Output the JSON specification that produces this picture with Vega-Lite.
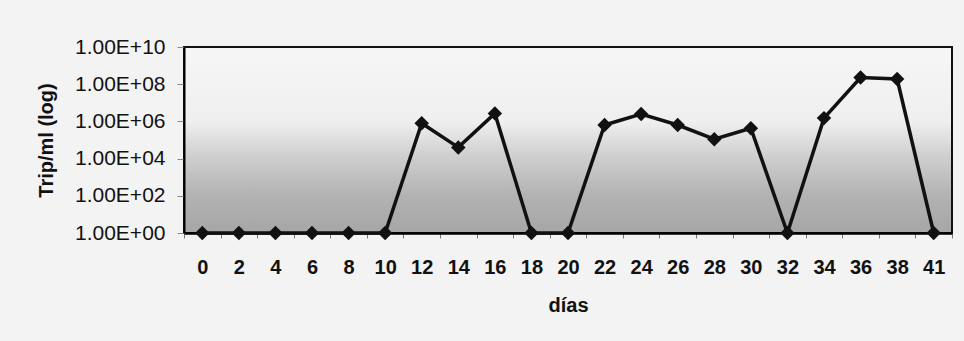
{
  "$schema": "https://vega.github.io/schema/vega-lite/v6.json",
  "width": 768,
  "height": 186,
  "autosize": {"type": "none"},
  "padding": {"left": 184, "top": 47, "right": 12, "bottom": 108},
  "background": "#f3f3f3",
  "config": {
    "font": "Liberation Sans",
    "view": {
      "stroke": "#111111",
      "strokeWidth": 2,
      "fill": {
        "gradient": "linear",
        "x1": 0, "y1": 0, "x2": 0, "y2": 1,
        "stops": [
          {"offset": 0, "color": "#f6f6f6"},
          {"offset": 0.4, "color": "#efefef"},
          {"offset": 0.58, "color": "#d0d0d0"},
          {"offset": 0.8, "color": "#b2b2b2"},
          {"offset": 1, "color": "#a6a6a6"}
        ]
      }
    }
  },
  "data": {
    "values": [
      {"dia": 0, "trip": 1},
      {"dia": 2, "trip": 1},
      {"dia": 4, "trip": 1},
      {"dia": 6, "trip": 1},
      {"dia": 8, "trip": 1},
      {"dia": 10, "trip": 1},
      {"dia": 12, "trip": 800000},
      {"dia": 14, "trip": 40000},
      {"dia": 16, "trip": 2700000},
      {"dia": 18, "trip": 1},
      {"dia": 20, "trip": 1},
      {"dia": 22, "trip": 640000},
      {"dia": 24, "trip": 2500000},
      {"dia": 26, "trip": 640000},
      {"dia": 28, "trip": 110000},
      {"dia": 30, "trip": 430000},
      {"dia": 32, "trip": 1},
      {"dia": 34, "trip": 1500000},
      {"dia": 36, "trip": 230000000},
      {"dia": 38, "trip": 190000000},
      {"dia": 41, "trip": 1}
    ]
  },
  "encoding": {
    "x": {
      "field": "dia",
      "type": "ordinal",
      "scale": {"type": "band", "paddingInner": 0, "paddingOuter": 0},
      "axis": {
        "title": "días",
        "labelAngle": 0,
        "tickBand": "extent",
        "domainColor": "#000000",
        "domainWidth": 2.5,
        "tickColor": "#777777",
        "tickSize": 5,
        "labelFont": "Liberation Sans",
        "labelFontSize": 20,
        "labelFontWeight": "bold",
        "labelColor": "#111111",
        "labelPadding": 19,
        "titleFont": "Liberation Sans",
        "titleFontSize": 20,
        "titleFontWeight": "bold",
        "titleColor": "#111111",
        "titlePadding": 18
      }
    },
    "y": {
      "field": "trip",
      "type": "quantitative",
      "scale": {"type": "log", "domain": [1, 10000000000], "nice": false},
      "axis": {
        "title": "Trip/ml (log)",
        "values": [1, 100, 10000, 1000000, 100000000, 10000000000],
        "labelExpr": "'1.00E+' + (round(log(datum.value)/LN10) < 10 ? '0' : '') + round(log(datum.value)/LN10)",
        "grid": false,
        "domainColor": "#000000",
        "domainWidth": 2,
        "tickColor": "#888888",
        "tickSize": 7,
        "labelFont": "Liberation Sans",
        "labelFontSize": 21,
        "labelColor": "#111111",
        "labelPadding": 12,
        "titleFont": "Liberation Sans",
        "titleFontSize": 20,
        "titleFontWeight": "bold",
        "titleColor": "#111111",
        "titlePadding": 18
      }
    }
  },
  "layer": [
    {
      "mark": {"type": "line", "color": "#111111", "strokeWidth": 3.5}
    },
    {
      "mark": {"type": "point", "shape": "diamond", "filled": true, "color": "#111111", "size": 210, "opacity": 1}
    }
  ]
}
